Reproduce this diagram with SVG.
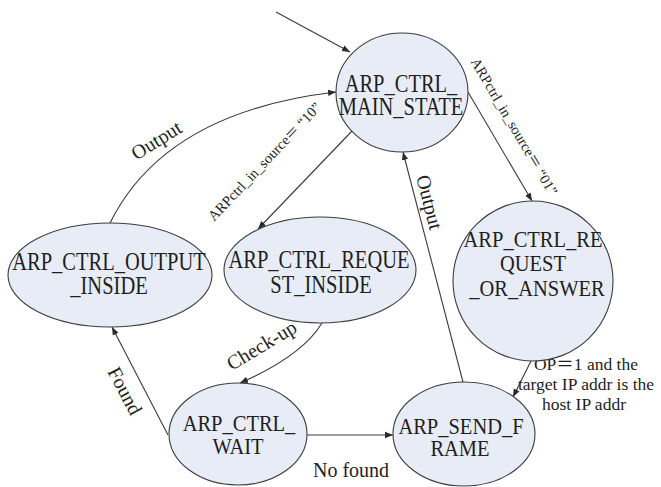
<svg xmlns="http://www.w3.org/2000/svg" width="661" height="487" viewBox="0 0 661 487">
  <style>
    .state { fill: #e8ecf6; stroke: #3c3c3c; stroke-width: 1.1; }
    .name { font-family: "Liberation Serif", "Times New Roman", serif; font-size: 20.5px; fill: #1e1e1e; text-anchor: middle; }
    .edge { fill: none; stroke: #3a3a3a; stroke-width: 1.1; }
    .lbl { font-family: "Liberation Serif", "Times New Roman", "Noto Sans CJK SC", serif; fill: #1e1e1e; text-anchor: middle; }
    .big { font-size: 20px; }
    .mid { font-size: 17.5px; }
    .small { font-size: 14.5px; }
  </style>
  <defs>
    <marker id="arrow" viewBox="0 0 10 10" refX="10" refY="5" markerWidth="8" markerHeight="8" markerUnits="userSpaceOnUse" orient="auto">
      <path d="M0,1 L10,5 L0,9 Z" fill="#2a2a2a"/>
    </marker>
  </defs>

  <!-- transitions -->
  <g id="connectors">
    <path class="edge" d="M276,12 L350,52" marker-end="url(#arrow)"/>
    <path class="edge" d="M110,223 Q165,112 336,92" marker-end="url(#arrow)"/>
    <path class="edge" d="M352,131 L258,229" marker-end="url(#arrow)"/>
    <path class="edge" d="M468,92 L532,201" marker-end="url(#arrow)"/>
    <path class="edge" d="M322,323 Q302,356 240,383" marker-end="url(#arrow)"/>
    <path class="edge" d="M168,435 L112,327" marker-end="url(#arrow)"/>
    <path class="edge" d="M307,435 L393,435" marker-end="url(#arrow)"/>
    <path class="edge" d="M463,382 L403,152" marker-end="url(#arrow)"/>
    <path class="edge" d="M531,361 L513,397" marker-end="url(#arrow)"/>

    <text class="lbl big" transform="translate(160,146) rotate(-32)">Output</text>
    <text class="lbl small" transform="translate(268,165) rotate(-46.5)">ARPctrl_in_source＝ “10”</text>
    <text class="lbl small" transform="translate(510,129) rotate(59.5)">ARPctrl_in_source＝ “01”</text>
    <text class="lbl big" transform="translate(265,351) rotate(-31)">Check-up</text>
    <text class="lbl big" transform="translate(119,394) rotate(62)">Found</text>
    <text class="lbl big" transform="translate(423,204) rotate(75.4)">Output</text>
    <text class="lbl big" x="351" y="477">No found</text>
    <text class="lbl mid" x="586" y="370">OP＝1 and the</text>
    <text class="lbl mid" x="586" y="390">target IP addr is the</text>
    <text class="lbl mid" x="584" y="410">host IP addr</text>
  </g>

  <g id="main-state">
    <ellipse class="state" cx="402" cy="92.5" rx="66" ry="59.5"/>
    <text class="name" transform="translate(401,92) scale(1,1.25)">ARP_CTRL_</text>
    <text class="name" transform="translate(401,115) scale(1,1.25)">MAIN_STATE</text>
  </g>

  <g id="output-inside">
    <ellipse class="state" cx="110" cy="275" rx="102" ry="52"/>
    <text class="name" transform="translate(109,270) scale(1,1.2)">ARP_CTRL_OUTPUT</text>
    <text class="name" transform="translate(109,294) scale(1,1.2)">_INSIDE</text>
  </g>

  <g id="request-inside">
    <ellipse class="state" cx="320" cy="270" rx="96" ry="53"/>
    <text class="name" transform="translate(319,268) scale(1,1.25)">ARP_CTRL_REQUE</text>
    <text class="name" transform="translate(321,293) scale(1,1.25)">ST_INSIDE</text>
  </g>

  <g id="request-or-answer">
    <ellipse class="state" cx="533" cy="281" rx="80" ry="80"/>
    <text class="name" transform="translate(533,247) scale(1,1.1)">ARP_CTRL_RE</text>
    <text class="name" transform="translate(533,271) scale(1,1.1)">QUEST</text>
    <text class="name" transform="translate(537,296) scale(1,1.1)">_OR_ANSWER</text>
  </g>

  <g id="wait">
    <ellipse class="state" cx="238" cy="434" rx="69" ry="51"/>
    <text class="name" transform="translate(239,431) scale(1,1.15)">ARP_CTRL_</text>
    <text class="name" transform="translate(238,454) scale(1,1.15)">WAIT</text>
  </g>

  <g id="send-frame">
    <ellipse class="state" cx="464" cy="434" rx="71" ry="52"/>
    <text class="name" transform="translate(461,434) scale(1,1.12)">ARP_SEND_F</text>
    <text class="name" transform="translate(460,456) scale(1,1.12)">RAME</text>
  </g>
</svg>
